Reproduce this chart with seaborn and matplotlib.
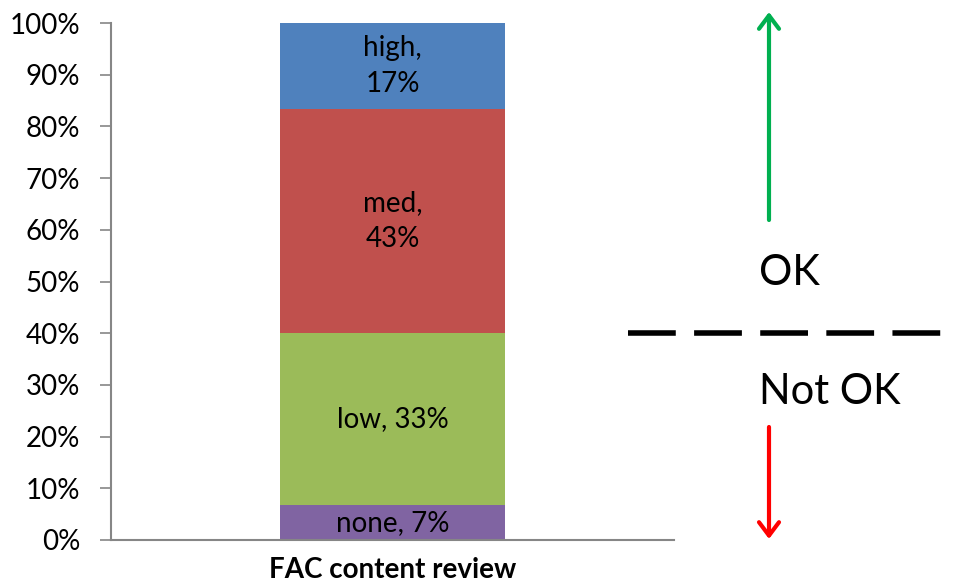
import matplotlib
matplotlib.use("Agg")
import matplotlib.pyplot as plt
import seaborn as sns
import pandas as pd
import numpy as np

# data
category = "FAC content review"
levels = ["none", "low", "med", "high"]
shares = [6.7, 33.3, 43.3, 16.7]          # percent of reviews
level_colors = ["#8064A2", "#9BBB59", "#C0504D", "#4F81BD"]
label_texts = ["none, 7%", "low, 33%", "med,\n43%", "high,\n17%"]
ok_threshold = 40                          # percent, dashed line

sns.set_theme(style="white")
plt.rcParams["font.family"] = ["Lato", "DejaVu Sans"]
plt.rcParams["text.color"] = "black"
plt.rcParams["xtick.color"] = "black"
plt.rcParams["ytick.color"] = "black"

fig = plt.figure(figsize=(9.55, 5.86), dpi=100)
ax = fig.add_axes([111 / 955, 46 / 586, 563 / 955, 517 / 586])

df = pd.DataFrame({"level": levels, "share": shares})
df["top"] = df["share"].cumsum()
df["mid"] = df["top"] - df["share"] / 2
df["cat"] = category

# stacked bar: draw cumulative bars from the tallest down so each covers the one below
for i in reversed(range(len(df))):
    row = df.iloc[[i]]
    sns.barplot(data=row, x="cat", y="top", color=level_colors[i], width=0.4,
                saturation=1, ax=ax, linewidth=0)

for i, row in df.iterrows():
    ax.text(0, row["mid"], label_texts[i], ha="center", va="center",
            fontsize=20, color="black", linespacing=1.45)

ax.set_ylim(0, 100)
ax.set_xlim(-0.5, 0.5)
ax.set_yticks(np.arange(0, 101, 10))
ax.set_yticklabels([f"{v}%" for v in range(0, 101, 10)], fontsize=20)
ax.set_xticks([0])
ax.set_xticklabels([category], fontsize=20, fontweight="bold")
ax.set_xlabel("")
ax.set_ylabel("")
ax.tick_params(axis="y", which="both", left=True, length=8, width=1.2,
               color="#868686", labelcolor="black", pad=14)
ax.tick_params(axis="x", length=0, pad=12, labelcolor="black")
sns.despine(ax=ax)
for side in ["left", "bottom"]:
    ax.spines[side].set_color("#868686")
    ax.spines[side].set_linewidth(1.5)

# OK / Not OK annotation on the right
trans = matplotlib.transforms.blended_transform_factory(fig.transFigure, ax.transData)
ax.plot([628 / 955, 1.0], [ok_threshold, ok_threshold], transform=trans,
        color="black", lw=4, dashes=(8.6, 3.3), clip_on=False)
arrow_style = "->,head_length=0.8,head_width=0.6"
ax.annotate("", xy=(769 / 955, 1 - 12 / 586), xytext=(769 / 955, 1 - 220 / 586),
            xycoords="figure fraction", textcoords="figure fraction",
            arrowprops=dict(arrowstyle=arrow_style, color="#00B050", lw=3,
                            shrinkA=0, shrinkB=0))
ax.annotate("", xy=(769 / 955, 1 - 539 / 586), xytext=(769 / 955, 1 - 427 / 586),
            xycoords="figure fraction", textcoords="figure fraction",
            arrowprops=dict(arrowstyle=arrow_style, color="#FF0000", lw=3,
                            shrinkA=0, shrinkB=0))
fig.text(759 / 955, 1 - 285 / 586, "OK", fontsize=30, ha="left", va="baseline")
fig.text(759 / 955, 1 - 404 / 586, "Not OK", fontsize=30, ha="left", va="baseline")

fig.savefig("out.png", dpi=100)
